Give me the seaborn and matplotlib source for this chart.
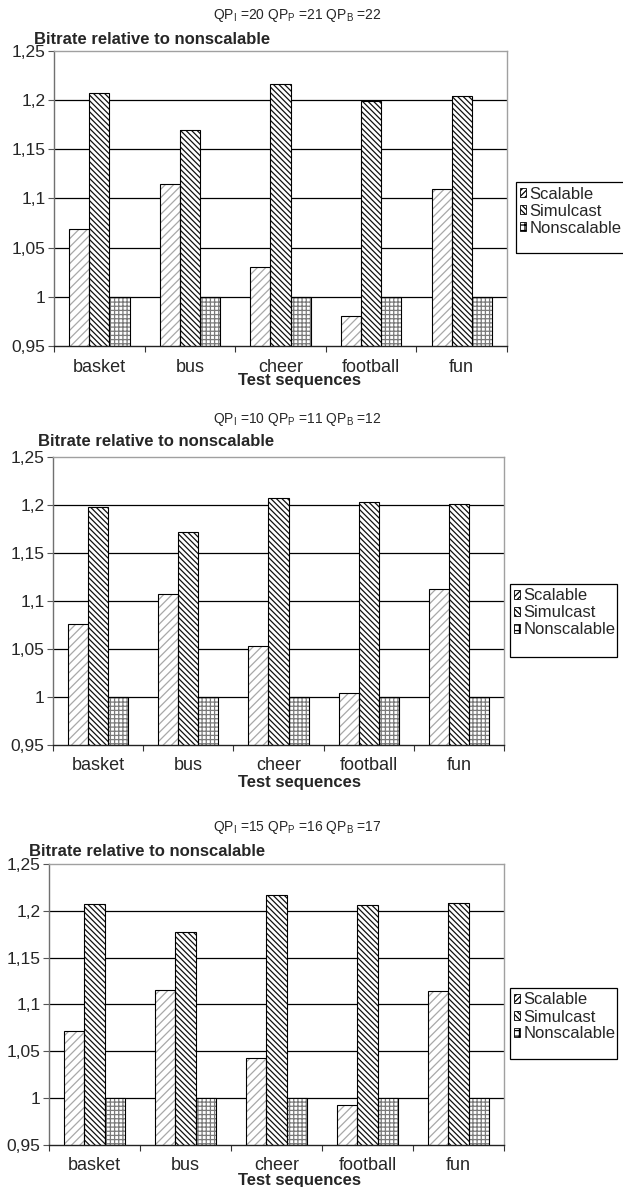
import matplotlib
matplotlib.use("Agg")
import matplotlib.pyplot as plt
from matplotlib.patches import Rectangle, Patch
import seaborn as sns
import pandas as pd

# ---------------- data ----------------
sequences = ["basket", "bus", "cheer", "football", "fun"]
codings = ["Scalable", "Simulcast", "Nonscalable"]

titles = [
    r"QP$_{\mathrm{I}}$ =20 QP$_{\mathrm{P}}$ =21 QP$_{\mathrm{B}}$ =22",
    r"QP$_{\mathrm{I}}$ =10 QP$_{\mathrm{P}}$ =11 QP$_{\mathrm{B}}$ =12",
    r"QP$_{\mathrm{I}}$ =15 QP$_{\mathrm{P}}$ =16 QP$_{\mathrm{B}}$ =17",
]

scalable_1 = [1.069, 1.115, 1.030, 0.981, 1.110]
simulcast_1 = [1.207, 1.170, 1.216, 1.199, 1.204]
nonscalable_1 = [1.0, 1.0, 1.0, 1.0, 1.0]

scalable_2 = [1.076, 1.107, 1.053, 1.004, 1.112]
simulcast_2 = [1.198, 1.172, 1.207, 1.203, 1.201]
nonscalable_2 = [1.0, 1.0, 1.0, 1.0, 1.0]

scalable_3 = [1.072, 1.115, 1.043, 0.993, 1.114]
simulcast_3 = [1.207, 1.177, 1.217, 1.206, 1.208]
nonscalable_3 = [1.0, 1.0, 1.0, 1.0, 1.0]

yticks = [0.95, 1.0, 1.05, 1.1, 1.15, 1.2, 1.25]
ytick_labels = ["0,95", "1", "1,05", "1,1", "1,15", "1,2", "1,25"]

panels = [
    (scalable_1, simulcast_1, nonscalable_1),
    (scalable_2, simulcast_2, nonscalable_2),
    (scalable_3, simulcast_3, nonscalable_3),
]

# ---------------- style ----------------
sns.set_style("white")
plt.rcParams["font.family"] = ["Liberation Sans", "DejaVu Sans"]
plt.rcParams["mathtext.fontset"] = "custom"
plt.rcParams["mathtext.rm"] = "Liberation Sans"
plt.rcParams["mathtext.it"] = "Liberation Sans"
plt.rcParams["hatch.linewidth"] = 0.9

W, H = 623, 1187
fig = plt.figure(figsize=(W / 100, H / 100), dpi=100)

hatches = ["////", "\\\\\\\\\\\\", "++++"]
hatch_colors = ["#a8a8a8", "#111111", "#7a7a7a"]

# pixel layout: (left, right, top, bottom)
axes_px = [(54, 507, 51, 346), (53, 504, 457, 745), (49, 504, 864, 1145)]
title_y = [15, 420, 828]
ylab_pos = [(34, 40), (38, 442), (29, 852)]
xlab_y = [381, 782, 1180]
legend_box = [(516, 640, 182, 253), (510, 617, 584, 657), (510, 617, 988, 1059)]


def fx(px):
    return px / W


def fy(py):
    return 1 - py / H


for i, (sc, si, ns) in enumerate(panels):
    l, r, t, b = axes_px[i]
    ax = fig.add_axes([fx(l), fy(b), (r - l) / W, (b - t) / H])

    df = pd.DataFrame({
        "Sequence": sequences * 3,
        "Coding": [c for c in codings for _ in sequences],
        "Bitrate": list(sc) + list(si) + list(ns),
    })
    sns.barplot(data=df, x="Sequence", y="Bitrate", hue="Coding",
                order=sequences, hue_order=codings, palette=["white"] * 3,
                saturation=1, width=2 / 3, gap=0, errorbar=None,
                linewidth=0, legend=False, ax=ax, zorder=2)

    for cont, h, hc in zip(ax.containers, hatches, hatch_colors):
        for bar in cont:
            bar.set_hatch(h)
            bar.set_edgecolor(hc)
            bar.set_linewidth(0)
            ax.add_patch(Rectangle(bar.get_xy(), bar.get_width(), bar.get_height(),
                                   fill=False, edgecolor="black", linewidth=0.8,
                                   zorder=3))

    ax.set_ylim(0.95, 1.25)
    ax.set_xlim(-0.5, len(sequences) - 0.5)
    ax.set_yticks(yticks)
    ax.set_yticklabels(ytick_labels, fontsize=12.5)
    for yv in yticks[1:-1]:
        ax.axhline(yv, color="black", linewidth=0.9, zorder=1)

    ax.set_xticks(range(len(sequences)))
    ax.set_xticklabels(sequences, fontsize=13)
    ax.set_xticks([k - 0.5 for k in range(len(sequences) + 1)], minor=True)
    ax.tick_params(axis="x", which="major", length=0, pad=9)
    ax.tick_params(axis="x", which="minor", length=4, width=0.8, color="#333333",
                   direction="out", bottom=True)
    ax.tick_params(axis="y", which="major", length=4, width=0.8, color="#555555",
                   direction="out", left=True, pad=2)
    ax.set_xlabel("")
    ax.set_ylabel("")

    for side in ["top", "right"]:
        ax.spines[side].set_color("#a0a0a0")
        ax.spines[side].set_linewidth(1.0)
    ax.spines["left"].set_color("#707070")
    ax.spines["left"].set_linewidth(1.0)
    ax.spines["bottom"].set_color("#222222")
    ax.spines["bottom"].set_linewidth(1.0)

    # texts
    fig.text(fx(297), fy(title_y[i]), titles[i], ha="center", va="center",
             fontsize=10)
    fig.text(fx(ylab_pos[i][0]), fy(ylab_pos[i][1]), "Bitrate relative to nonscalable",
             ha="left", va="center", fontsize=12, fontweight="bold")
    fig.text(fx(300), fy(xlab_y[i]), "Test sequences", ha="center", va="center",
             fontsize=12, fontweight="bold")

    # legend
    bl, br, bt, bb = legend_box[i]
    fig.patches.append(Rectangle((fx(bl), fy(bb)), (br - bl) / W, (bb - bt) / H,
                                 transform=fig.transFigure, fill=False,
                                 edgecolor="black", linewidth=0.9))
    handles = [Patch(facecolor="white", edgecolor="black", hatch=h, linewidth=0.6)
               for h in ["//////", "\\\\\\\\\\\\", "+++"]]
    fig.legend(handles, codings, loc="upper left",
               bbox_to_anchor=(fx(bl + 1), fy(bt + 2)), frameon=False,
               fontsize=12, handlelength=0.4, handleheight=0.4,
               handletextpad=0.2, labelspacing=0.12, borderpad=0.15,
               borderaxespad=0)

fig.savefig("out.png", dpi=100)
